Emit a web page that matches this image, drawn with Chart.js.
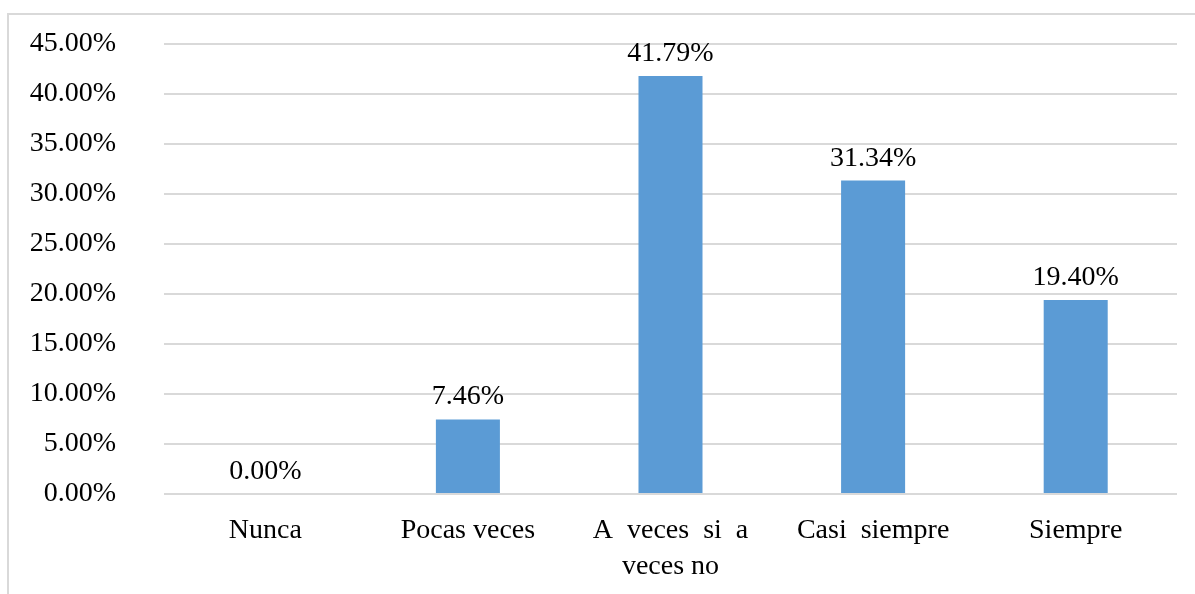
<!DOCTYPE html>
<html>
<head>
<meta charset="utf-8">
<script src="https://cdn.jsdelivr.net/npm/chart.js@4.4.1/dist/chart.umd.min.js"></script>
<style>
  html, body { margin: 0; padding: 0; background: #fff; }
  #wrap { position: relative; width: 1195px; height: 594px; overflow: hidden; }
  #frame { position: absolute; left: 7px; top: 13px; width: 1300px; height: 700px; border: 2px solid #d9d9d9; box-sizing: border-box; }
  #c { position: absolute; left: 0; top: 0; }
</style>
</head>
<body>
<div id="wrap">
  <div id="frame"></div>
  <canvas id="c" width="1195" height="594"></canvas>
</div>
<script>
const categories = ['Nunca', 'Pocas veces', ['A  veces  si  a', 'veces no'], 'Casi  siempre', 'Siempre'];
const values = [0.00, 7.46, 41.79, 31.34, 19.40];
const yTickMin = 0;
const yTickMax = 45;
const yTickStep = 5;

const FONT = "'Liberation Serif', 'Times New Roman', serif";

const valueLabels = {
  id: 'valueLabels',
  afterDatasetsDraw(chart) {
    const ctx = chart.ctx;
    const meta = chart.getDatasetMeta(0);
    ctx.save();
    ctx.font = '28px ' + FONT;
    ctx.fillStyle = '#000';
    ctx.textAlign = 'center';
    ctx.textBaseline = 'alphabetic';
    meta.data.forEach((bar, i) => {
      const v = chart.data.datasets[0].data[i];
      ctx.fillText(v.toFixed(2) + '%', bar.x, bar.y - 15);
    });
    ctx.restore();
  }
};

new Chart(document.getElementById('c'), {
  type: 'bar',
  data: {
    labels: categories,
    datasets: [{
      data: values,
      backgroundColor: '#5b9bd5',
      borderWidth: 0,
      barPercentage: 0.316,
      categoryPercentage: 1.0
    }]
  },
  options: {
    responsive: false,
    animation: false,
    layout: { padding: { left: 30, right: 18, top: 44, bottom: 0 } },
    plugins: { legend: { display: false }, tooltip: { enabled: false } },
    scales: {
      x: {
        grid: { display: false, drawTicks: false },
        border: { display: false },
        afterFit: s => { s.height = 100; },
        ticks: {
          color: '#000',
          font: { family: FONT, size: 28, lineHeight: 1.3 },
          padding: 18,
          maxRotation: 0,
          autoSkip: false
        }
      },
      y: {
        min: yTickMin,
        max: yTickMax,
        afterFit: s => { s.width = 134; },
        grid: { color: '#d9d9d9', lineWidth: 2, drawTicks: true, tickLength: 40, tickColor: 'rgba(0,0,0,0)' },
        border: { display: false },
        ticks: {
          stepSize: yTickStep,
          color: '#000',
          font: { family: FONT, size: 28 },
          padding: 8,
          callback: v => v.toFixed(2) + '%'
        }
      }
    }
  },
  plugins: [valueLabels]
});
</script>
</body>
</html>
